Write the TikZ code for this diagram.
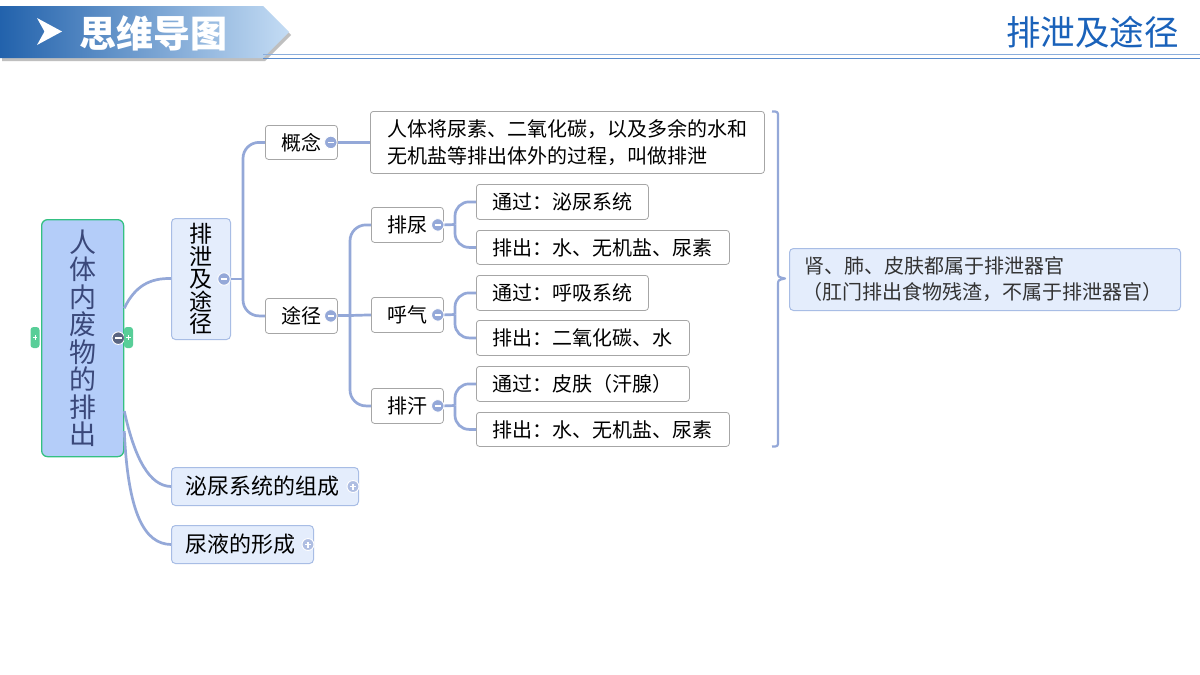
\documentclass[tikz,border=0pt]{standalone}
\usepackage{fontspec}
\setmainfont{Noto Sans CJK SC}
\definecolor{connc}{RGB}{148,168,216}
\definecolor{lfill}{RGB}{228,237,252}
\definecolor{lbord}{RGB}{168,189,229}
\definecolor{gbord}{RGB}{166,166,166}
\definecolor{rootfill}{RGB}{180,205,249}
\definecolor{rootbord}{RGB}{52,192,130}
\definecolor{roottext}{RGB}{58,72,122}
\definecolor{tabgreen}{RGB}{88,206,152}
\definecolor{hdark}{RGB}{34,98,172}
\definecolor{hlight}{RGB}{196,220,244}
\definecolor{titleblue}{RGB}{26,98,186}
\definecolor{hline}{RGB}{90,140,205}
\tikzset{
  conn/.style={draw=connc, line width=2.7pt},
  wbox/.style={draw=gbord, fill=white, rounded corners=3pt, line width=0.8pt,
    inner xsep=16pt, inner ysep=0pt, anchor=north west, align=left,
    font=\fontsize{20}{27}\selectfont},
  lbox/.style={draw=lbord, fill=lfill, rounded corners=4pt, line width=1pt,
    inner xsep=14pt, inner ysep=0pt, anchor=north west, align=left,
    font=\fontsize{22}{26}\selectfont},
  minusbtn/.style={circle, fill=connc, draw=white, line width=0.9pt, minimum size=12.5pt, inner sep=0pt,
    path picture={\draw[white, line width=1.5pt] ([xshift=-3.3pt]path picture bounding box.center) -- ([xshift=3.3pt]path picture bounding box.center);}},
  plusbtn/.style={circle, fill=connc!75, draw=white, line width=0.9pt, minimum size=12pt, inner sep=0pt,
    path picture={\draw[white, line width=1.3pt] ([xshift=-3pt]path picture bounding box.center) -- ([xshift=3pt]path picture bounding box.center) ([yshift=-3pt]path picture bounding box.center) -- ([yshift=3pt]path picture bounding box.center);}},
  greytab/.style={rounded corners=3pt, fill=tabgreen, minimum width=9pt, minimum height=21pt, inner sep=0pt,
    path picture={\draw[white, line width=0.9pt] ([xshift=-2.2pt]path picture bounding box.center) -- ([xshift=2.2pt]path picture bounding box.center) ([yshift=-2.2pt]path picture bounding box.center) -- ([yshift=2.2pt]path picture bounding box.center);}},
}
\begin{document}
\begin{tikzpicture}[x=1pt,y=-1pt]
\useasboundingbox (0,0) rectangle (1200,675);
\fill[white] (0,0) rectangle (1200,675);
% ---------- header ----------
\fill[black!25] (2,9) -- (265,9) -- (291,35) -- (265,61) -- (2,61) -- cycle;
\shade[left color=hdark, right color=hlight, shading=axis] (0,6) -- (263,6) -- (289,32) -- (263,58) -- (0,58) -- cycle;
\draw[hline!70, line width=0.8pt] (263,54.5) -- (1200,54.5);
\draw[hline, line width=1.3pt] (263,58.3) -- (1200,58.3);
\fill[white] (37,18) -- (62,31.5) -- (37,45) -- (44.5,31.5) -- cycle;
\node[text=white, font=\fontsize{37}{40}\selectfont\bfseries, anchor=west, inner sep=0pt] (htitle) at (79,33) {思维导图};
\node[text=titleblue, font=\fontsize{34.5}{38}\selectfont, anchor=east, inner sep=0pt] (rtitle) at (1179,32) {排泄及途径};
% ---------- nodes ----------
\node[draw=rootbord, fill=rootfill, line width=1.3pt, rounded corners=6pt, anchor=north west,
  minimum width=82pt, minimum height=237pt, inner sep=0pt, align=center, text=roottext,
  font=\fontsize{27}{27.5}\selectfont] (root) at (41,219) {人\\体\\内\\废\\物\\的\\排\\出};
\node[lbox, anchor=north west, minimum width=59pt, minimum height=121pt, inner xsep=0pt, align=center,
  font=\fontsize{23}{22.5}\selectfont] (pxtj) at (171,218) {排\\泄\\及\\途\\径};
\node[wbox, text width=40pt, align=center, minimum height=34pt] (gn) at (265,125) {概念};
\node[wbox, text width=40pt, align=center, minimum height=35pt] (tj) at (265,298) {途径};
\node[wbox, inner xsep=17pt, text width=360pt, minimum height=62pt] (lb) at (370,111)
  {人体将尿素、二氧化碳，以及多余的水和\\无机盐等排出体外的过程，叫做排泄};
\node[wbox, text width=40pt, align=center, minimum height=35pt] (pn) at (371,207) {排尿};
\node[wbox, text width=40pt, align=center, minimum height=35pt] (hq) at (371,297) {呼气};
\node[wbox, text width=40pt, align=center, minimum height=35pt] (ph) at (371,388) {排汗};
\node[wbox, text width=140pt, minimum height=35pt] (c1) at (476,184) {通过：泌尿系统};
\node[wbox, text width=221pt, minimum height=34pt] (c2) at (476,230) {排出：水、无机盐、尿素};
\node[wbox, text width=140pt, minimum height=35pt] (c3) at (476,275) {通过：呼吸系统};
\node[wbox, text width=181pt, minimum height=35pt] (c4) at (476,320) {排出：二氧化碳、水};
\node[wbox, text width=181pt, minimum height=35pt] (c5) at (476,366) {通过：皮肤（汗腺）};
\node[wbox, text width=221pt, minimum height=34pt] (c6) at (476,412) {排出：水、无机盐、尿素};
\node[lbox, inner xsep=15pt, text width=361pt, minimum height=62pt, text=black!80,
  font=\fontsize{20}{26}\selectfont] (sm) at (789,248)
  {肾、肺、皮肤都属于排泄器官\\\hspace*{-2pt}（肛门排出食物残渣，不属于排泄器官）};
\node[lbox, text width=159pt, minimum height=38pt] (ml) at (171,467) {泌尿系统的组成};
\node[lbox, text width=114pt, minimum height=38pt] (nl) at (171,525) {尿液的形成};
% ---------- connectors ----------
\draw[conn] ([yshift=30pt]root.east) .. controls (135,286) and (150,278) .. ([yshift=0.5pt]pxtj.west);
\draw[conn] ([yshift=-73pt]root.east) .. controls (135,460) and (150,486) .. (ml.west);
\draw[conn] ([yshift=-93pt]root.east) .. controls (128,515) and (145,544) .. (nl.west);
\coordinate (j1) at (243,279);
\draw[conn] (pxtj.east |- j1) -- (j1);
\draw[conn, rounded corners=16pt] (j1) |- (gn.west);
\draw[conn, rounded corners=16pt] (j1) |- (tj.west);
\draw[conn] (gn.east) -- (lb.west |- gn.east);
\coordinate (j2) at (350,315.5);
\draw[conn] (tj.east |- j2) -- (j2);
\draw[conn, rounded corners=16pt] (j2) |- (pn.west);
\draw[conn] (j2) -- (hq.west);
\draw[conn, rounded corners=16pt] (j2) |- (ph.west);
\coordinate (j3) at (455,224.5);
\coordinate (j4) at (455,314.5);
\coordinate (j5) at (455,405.5);
\draw[conn] (pn.east) -- (j3);
\draw[conn, rounded corners=14pt] (j3) |- (c1.west);
\draw[conn, rounded corners=14pt] (j3) |- (c2.west);
\draw[conn] (hq.east) -- (j4);
\draw[conn, rounded corners=14pt] (j4) |- (c3.west);
\draw[conn, rounded corners=14pt] (j4) |- (c4.west);
\draw[conn] (ph.east) -- (j5);
\draw[conn, rounded corners=14pt] (j5) |- (c5.west);
\draw[conn, rounded corners=14pt] (j5) |- (c6.west);
% brace
\draw[connc, line width=2.2pt, line join=round] (772,111.5) .. controls (778,111.5) .. (778,117) -- (778,272)
  .. controls (778,277) .. (785,278.5) .. controls (778,280) .. (778,285) -- (778,441) .. controls (778,446.5) .. (772,446.5);
% ---------- buttons ----------
\node[minusbtn] (bgn) at ([xshift=-7pt]gn.east) {};
\node[minusbtn] (btj) at ([xshift=-7pt]tj.east) {};
\node[minusbtn] (bpn) at ([xshift=-6pt]pn.east) {};
\node[minusbtn] (bhq) at ([xshift=-6pt]hq.east) {};
\node[minusbtn] (bph) at ([xshift=-6pt]ph.east) {};
\node[minusbtn] (bpx) at ([xshift=-7pt]pxtj.east) {};
\node[plusbtn] (bml) at ([xshift=-6pt]ml.east) {};
\node[plusbtn] (bnl) at ([xshift=-6pt]nl.east) {};
\node[minusbtn, fill=black!40!connc] (broot) at ([xshift=-6pt]root.east) {};
\node[greytab] (tl) at (35,337.5) {};
\node[greytab] (tr) at (128.5,337.5) {};
\end{tikzpicture}
\end{document}
